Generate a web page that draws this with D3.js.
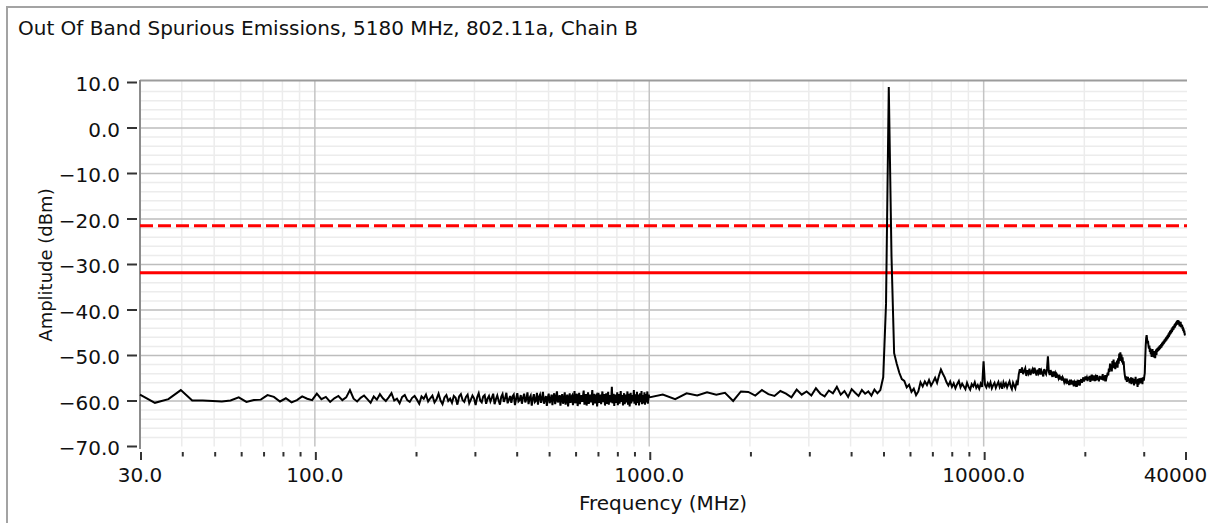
<!DOCTYPE html>
<html>
<head>
<meta charset="utf-8">
<script src="https://cdn.jsdelivr.net/npm/d3@7"></script>
<style>
body{margin:0;background:#fff;}
text{font-family:"DejaVu Sans",Verdana,sans-serif;fill:#111;}
</style>
</head>
<body>
<svg id="grafico" width="1208" height="523"></svg>
<script>
var titolo = "Out Of Band Spurious Emissions, 5180 MHz, 802.11a, Chain B";
var xLabel = "Frequency (MHz)";
var yLabel = "Amplitude (dBm)";

// tick marks
var xMajor = [30, 100, 1000, 10000, 40000];
var xMinor = [40,50,60,70,80,90,200,300,400,500,600,700,800,900,2000,3000,4000,5000,6000,7000,8000,9000,20000,30000];
var yMajor = [10, 0, -10, -20, -30, -40, -50, -60, -70];

// limit lines (dBm)
var limitDash = -21.5;
var limitSolid = -31.8;

// sweep 1: 30 - 1000 MHz (linear steps)
var sweep1 = [30, 1000];
var amp1 = [
-58.6,-60.4,-59.6,-57.6,-59.9,-59.9,-60.0,-60.1,-59.9,-59.2,
-60.2,-59.8,-59.7,-58.7,-59.1,-60.1,-59.4,-60.3,-59.8,-59.0,
-59.5,-59.8,-58.4,-59.6,-59.1,-60.2,-59.4,-58.9,-59.8,-59.2,
-57.6,-59.5,-60.1,-59.3,-58.8,-59.6,-60.4,-59.0,-59.7,-58.5,
-59.4,-60.0,-59.2,-58.3,-59.9,-59.5,-60.5,-59.1,-58.7,-59.8,
-60.2,-59.3,-58.9,-59.7,-60.6,-59.0,-59.5,-58.6,-60.1,-59.4,
-58.8,-60.3,-59.6,-58.4,-59.9,-60.7,-59.2,-58.7,-60.0,-59.5,
-60.4,-58.9,-59.3,-60.8,-59.0,-58.5,-59.8,-60.2,-59.1,-58.6,
-60.5,-59.7,-58.8,-59.4,-60.9,-59.2,-58.3,-59.9,-60.3,-59.0,
-58.7,-60.6,-59.5,-58.9,-60.1,-59.3,-58.4,-60.7,-59.6,-58.8,
-59.9,-60.8,-59.1,-58.5,-60.2,-59.4,-58.2,-60.5,-59.7,-58.9,
-60.4,-59.0,-58.6,-60.9,-59.5,-58.3,-60.1,-59.8,-58.7,-60.6,
-59.2,-58.4,-60.3,-59.6,-58.1,-60.7,-59.3,-58.8,-61.0,-59.5,
-58.5,-60.2,-59.9,-58.2,-60.8,-59.1,-58.6,-60.4,-59.4,-58.0,
-60.6,-59.7,-58.9,-61.1,-59.3,-58.4,-60.5,-59.8,-58.6,-60.9,
-59.0,-58.3,-60.7,-59.5,-57.9,-60.3,-59.6,-58.7,-61.0,-59.2,
-58.5,-60.6,-59.9,-58.1,-60.8,-59.4,-58.6,-61.2,-59.7,-58.3,
-60.4,-59.1,-58.8,-60.9,-59.6,-57.8,-60.5,-59.3,-58.4,-61.1,
-59.8,-58.2,-60.7,-59.5,-58.7,-60.2,-59.0,-57.7,-60.8,-59.6,
-58.5,-61.0,-59.4,-58.1,-60.6,-59.9,-58.6,-60.3,-59.2,-57.6,
-60.9,-59.7,-58.4,-60.5,-59.1,-58.8,-61.2,-59.5,-58.2,-60.4,
-59.8,-58.6,-60.7,-59.3,-57.9,-60.2,-59.6,-58.5,-61.0,-59.4,
-58.3,-60.6,-59.9,-58.0,-60.8,-59.2,-58.7,-60.3,-59.5,-56.9,
-60.5,-59.8,-58.4,-61.1,-59.0,-58.6,-60.4,-59.7,-58.1,-60.9,
-59.3,-58.5,-60.6,-59.6,-57.8,-60.2,-59.4,-58.7,-61.0,-59.1,
-58.3,-60.7,-59.9,-58.6,-60.3,-59.5,-57.9,-60.8,-59.2,-58.4,
-61.2,-59.6,-58.2,-60.5,-59.8,-58.7,-60.1,-59.3,-57.6,-60.6,
-59.5,-58.5,-60.9,-59.7,-58.0,-60.4,-59.1,-58.6,-61.0,-59.4,
-58.3,-60.2,-59.8,-57.8,-60.7,-59.2,-58.7,-60.5,-59.6,-58.1,
-60.8,-59.4,-58.5,-60.3,-59.0,-57.9,-60.6,-59.7,-58.6,-59.2
];

// sweep 2: 1000 - 40000 MHz (linear steps)
var sweep2 = [1000, 40000];
var amp2 = [
-59.2,-58.6,-59.6,-58.3,-58.8,-58.1,-58.6,-58.2,-60.0,-57.9,
-58.0,-58.8,-57.6,-58.5,-58.9,-57.8,-58.4,-59.2,-57.5,-58.6,
-57.9,-58.8,-57.2,-58.4,-59.0,-57.7,-58.3,-56.9,-58.6,-57.8,
-59.1,-57.4,-58.2,-58.9,-57.6,-58.4,-57.9,-58.8,-57.5,-58.3,
-57.6,-54.8,-38.6,9.0,-28.0,-49.5,-51.8,-53.8,-55.2,-55.6,
-57.0,-56.4,-58.0,-57.3,-58.7,-57.9,-55.9,-56.8,-55.7,-56.5,
-55.4,-56.6,-55.8,-54.9,-56.0,-54.4,-53.1,-54.0,-54.8,-55.9,
-56.6,-55.7,-56.9,-56.1,-57.2,-56.3,-55.6,-57.0,-56.2,-56.8,
-57.4,-56.0,-56.9,-57.5,-56.3,-56.8,-55.9,-57.1,-56.5,-57.3,
-56.2,-56.9,-51.3,-56.4,-57.0,-56.1,-56.8,-55.9,-57.2,-56.5,
-56.0,-57.1,-56.4,-55.8,-56.9,-56.2,-57.3,-55.9,-56.7,-56.1,
-57.0,-56.3,-55.7,-56.8,-57.4,-56.0,-56.6,-57.2,-55.9,-56.5,
-54.2,-53.0,-53.8,-52.6,-54.1,-53.4,-52.8,-54.5,-53.2,-53.9,
-52.9,-54.3,-53.5,-53.0,-54.0,-52.7,-53.6,-54.4,-53.1,-53.8,
-52.8,-54.2,-53.3,-53.9,-54.6,-53.0,-53.7,-54.1,-52.9,-50.2,
-53.6,-54.3,-53.2,-54.0,-54.7,-53.5,-54.2,-53.8,-54.9,-54.1,
-54.5,-55.0,-54.2,-55.3,-54.6,-55.5,-54.8,-55.2,-55.9,-55.4,
-55.8,-55.1,-56.2,-55.6,-56.5,-55.3,-56.0,-55.7,-56.4,-55.5,
-56.8,-55.9,-56.3,-55.6,-56.9,-55.8,-56.1,-55.4,-56.6,-55.7,
-55.2,-56.0,-55.5,-54.8,-55.7,-55.1,-54.6,-55.4,-54.9,-55.6,
-54.7,-55.3,-54.5,-55.8,-54.9,-54.2,-55.5,-54.8,-55.1,-54.4,
-55.6,-54.7,-55.0,-54.3,-55.4,-54.9,-55.7,-54.5,-55.2,-54.6,
-55.3,-54.8,-54.1,-55.5,-54.6,-55.0,-54.3,-55.7,-54.9,-54.5,
-53.8,-54.4,-52.9,-53.6,-51.8,-53.2,-52.1,-53.5,-51.2,-52.6,
-50.9,-52.8,-51.5,-53.0,-51.9,-52.4,-51.1,-52.7,-50.6,-51.8,
-49.6,-51.2,-49.3,-50.8,-49.8,-51.5,-50.4,-52.0,-51.3,-53.1,
-54.2,-54.9,-55.4,-54.6,-55.8,-55.1,-54.7,-55.6,-55.0,-56.1,
-55.3,-55.9,-54.8,-56.3,-55.5,-54.9,-56.0,-55.2,-56.6,-55.4,
-55.8,-54.7,-56.2,-55.3,-55.9,-56.9,-55.1,-56.4,-55.6,-55.0,
-56.1,-55.4,-55.8,-54.9,-55.7,-56.3,-55.2,-54.8,-55.5,-54.6,
-53.9,-50.6,-47.8,-46.2,-45.5,-46.4,-47.3,-46.8,-47.9,-48.5,
-47.8,-49.2,-48.4,-49.7,-48.9,-50.3,-49.4,-48.6,-50.1,-49.5,
-50.4,-49.0,-49.8,-50.6,-49.3,-48.7,-49.9,-48.5,-49.2,-48.3,
-49.0,-48.1,-48.8,-47.9,-48.6,-47.7,-48.4,-47.5,-48.2,-47.2,
-47.9,-47.0,-47.6,-46.8,-47.4,-46.5,-47.1,-46.3,-46.9,-46.0,
-46.7,-45.8,-46.4,-45.5,-46.2,-45.2,-45.9,-44.9,-45.6,-44.6,
-45.3,-44.4,-45.1,-44.1,-44.8,-43.8,-44.5,-43.6,-44.3,-43.4,
-44.0,-43.1,-43.8,-42.9,-43.5,-42.6,-43.3,-42.4,-43.1,-42.2,
-42.9,-42.3,-43.2,-42.5,-43.6,-42.8,-43.4,-42.6,-43.8,-43.1,
-43.9,-43.3,-44.2,-43.7,-44.6,-44.1,-45.0,-44.5,-45.3,-45.6
];

var svg = d3.select("#grafico");
svg.append("rect").attr("width", 1208).attr("height", 523).attr("fill", "#fff");

var x = d3.scaleLog().domain([30, 40000]).range([140, 1185]);
var y = d3.scaleLinear().domain([-70, 10]).range([446.5, 82.5]);
var fmt = d3.format(".1f");

// outer frame
svg.append("line").attr("x1", 7).attr("y1", 6).attr("x2", 7).attr("y2", 523)
    .attr("stroke", "#a3a3a3").attr("stroke-width", 2);
svg.append("line").attr("x1", 6).attr("y1", 7).attr("x2", 1208).attr("y2", 7)
    .attr("stroke", "#a3a3a3").attr("stroke-width", 2);

svg.append("text").attr("x", 18).attr("y", 35)
    .style("font-size", "20px").text(titolo);

// grid
var grid = svg.append("g");
var yMinor = d3.range(-68, 10, 2).filter(function(d){ return d % 10 != 0; });
grid.selectAll(".hmin").data(yMinor).enter().append("line")
    .attr("x1", 140).attr("x2", 1187)
    .attr("y1", function(d){ return y(d); }).attr("y2", function(d){ return y(d); })
    .attr("stroke", "#ececec").attr("stroke-width", 1.5);
grid.selectAll(".vmin").data(xMinor).enter().append("line")
    .attr("x1", function(d){ return x(d); }).attr("x2", function(d){ return x(d); })
    .attr("y1", 81).attr("y2", 446.5)
    .attr("stroke", "#ececec").attr("stroke-width", 1.5);
grid.selectAll(".hmaj").data(yMajor.slice(1, 8)).enter().append("line")
    .attr("x1", 140).attr("x2", 1187)
    .attr("y1", function(d){ return y(d); }).attr("y2", function(d){ return y(d); })
    .attr("stroke", "#bdbdbd").attr("stroke-width", 1.5);
grid.selectAll(".vmaj").data([100, 1000, 10000]).enter().append("line")
    .attr("x1", function(d){ return x(d); }).attr("x2", function(d){ return x(d); })
    .attr("y1", 81).attr("y2", 446.5)
    .attr("stroke", "#c4c4c4").attr("stroke-width", 1.5);
// top border of plot
svg.append("line").attr("x1", 140).attr("x2", 1187).attr("y1", 80.5).attr("y2", 80.5)
    .attr("stroke", "#9c9c9c").attr("stroke-width", 2);

// y axis
svg.append("line").attr("x1", 140).attr("x2", 140).attr("y1", 80).attr("y2", 449)
    .attr("stroke", "#8c8c8c").attr("stroke-width", 2);
var yAx = svg.append("g");
yAx.selectAll("line").data(yMajor).enter().append("line")
    .attr("x1", 127).attr("x2", 137)
    .attr("y1", function(d){ return y(d); }).attr("y2", function(d){ return y(d); })
    .attr("stroke", "#333").attr("stroke-width", 2);
yAx.selectAll("text").data(yMajor).enter().append("text")
    .attr("x", 120).attr("y", function(d){ return y(d); }).attr("dy", "0.43em")
    .attr("text-anchor", "end").style("font-size", "20px")
    .text(function(d){ return fmt(d); });
svg.append("text").attr("transform", "translate(52,265) rotate(-90)")
    .attr("text-anchor", "middle").style("font-size", "18px").text(yLabel);

// x axis (ticks sit below the plot)
var xAx = svg.append("g");
xAx.selectAll(".tmin").data(xMinor).enter().append("line")
    .attr("x1", function(d){ return x(d) + 1; }).attr("x2", function(d){ return x(d) + 1; })
    .attr("y1", 452).attr("y2", 456.5)
    .attr("stroke", "#333").attr("stroke-width", 2);
xAx.selectAll(".tmaj").data(xMajor).enter().append("line")
    .attr("x1", function(d){ return x(d) + 1; }).attr("x2", function(d){ return x(d) + 1; })
    .attr("y1", 452).attr("y2", 460)
    .attr("stroke", "#333").attr("stroke-width", 2);
xAx.selectAll("text").data(xMajor).enter().append("text")
    .attr("x", function(d){ return x(d); }).attr("y", 482)
    .attr("text-anchor", "middle").style("font-size", "20px")
    .text(function(d){ return fmt(d); });
svg.append("text").attr("x", 663).attr("y", 510)
    .attr("text-anchor", "middle").style("font-size", "20px").text(xLabel);

// limit lines
svg.append("line").attr("x1", 140).attr("x2", 1187)
    .attr("y1", y(limitDash)).attr("y2", y(limitDash))
    .attr("stroke", "#ff0000").attr("stroke-width", 3).attr("stroke-dasharray", "13,5");
svg.append("line").attr("x1", 140).attr("x2", 1187)
    .attr("y1", y(limitSolid)).attr("y2", y(limitSolid))
    .attr("stroke", "#ff0000").attr("stroke-width", 3);

// trace
function punti(sweep, amp){
    var passo = (sweep[1] - sweep[0]) / (amp.length - 1);
    return amp.map(function(a, i){ return {f: sweep[0] + i * passo, a: a}; });
}
var dati = punti(sweep1, amp1).concat(punti(sweep2, amp2).slice(1));
var linea = d3.line()
    .x(function(d){ return x(d.f); })
    .y(function(d){ return y(d.a); });
svg.append("path").datum(dati)
    .attr("d", linea)
    .attr("fill", "none").attr("stroke", "#000").attr("stroke-width", 2)
    .attr("stroke-linejoin", "miter");
</script>
</body>
</html>
